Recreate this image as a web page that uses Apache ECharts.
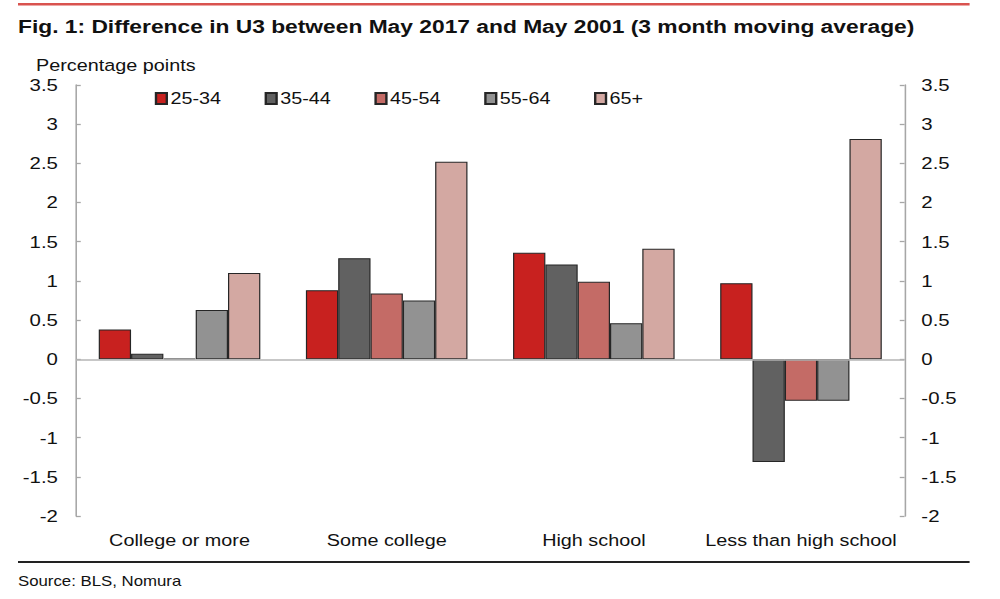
<!DOCTYPE html>
<html><head><meta charset="utf-8">
<script src="https://cdn.jsdelivr.net/npm/echarts@6/dist/echarts.min.js"></script>
<style>
html,body{margin:0;padding:0;background:#fff;overflow:hidden}
#c{width:833.33px;height:599px;transform:scaleX(1.2);transform-origin:0 0}
</style>
</head><body><div id="c"></div>
<script>
const categories = ['College or more', 'Some college', 'High school', 'Less than high school'];
const seriesNames = ['25-34', '35-44', '45-54', '55-64', '65+'];
const s2534 = [0.38, 0.88, 1.36, 0.97];
const s3544 = [0.07, 1.29, 1.21, -1.31];
const s4554 = [0.01, 0.84, 0.99, -0.53];
const s5564 = [0.63, 0.75, 0.46, -0.53];
const s65p  = [1.10, 2.52, 1.41, 2.81];
const yTicks = [-2, -1.5, -1, -0.5, 0, 0.5, 1, 1.5, 2, 2.5, 3, 3.5];

const colors = ['#c8211f', '#616161', '#c46b66', '#929292', '#d3a8a2'];
const seriesData = [s2534, s3544, s4554, s5564, s65p];
const font = 'Liberation Sans, Arial, sans-serif';

// The page is drawn at 833 px wide and stretched horizontally by 1.2 (like the reference)
const chart = echarts.init(document.getElementById('c'), null, { renderer: 'svg' });
const yAxisBase = (pos) => ({
  type: 'value', position: pos, min: yTicks[0], max: yTicks[yTicks.length - 1], interval: 0.5,
  splitLine: { show: false },
  axisLine: { show: true, lineStyle: { color: '#a6a6a6', width: 1.3 } },
  axisTick: { show: true, inside: true, length: 4, lineStyle: { color: '#a6a6a6', width: 1.3 } },
  axisLabel: { color: '#111', fontSize: 17, fontFamily: font, margin: pos === 'left' ? 15 : 14 }
});
chart.setOption({
  animation: false,
  color: colors,
  title: {
    text: 'Fig. 1: Difference in U3 between May 2017 and May 2001 (3 month moving average)',
    left: 10, top: 12,
    textStyle: { fontSize: 19, fontWeight: 'bold', color: '#111', fontFamily: font }
  },
  legend: {
    left: 124, top: 85, itemWidth: 9, itemHeight: 11, itemGap: 36.3, icon: 'rect',
    textStyle: { fontSize: 16.5, color: '#111', fontFamily: font, padding: [0, 0, 0, -2] },
    data: seriesNames
  },
  graphic: [
    { type: 'rect', shape: { x: 15, y: 3, width: 793, height: 2.5 }, style: { fill: '#d9534f' } },
    { type: 'rect', shape: { x: 15, y: 561, width: 793, height: 2 }, style: { fill: '#222' } },
    { type: 'text', left: 15, top: 574, style: { text: 'Source: BLS, Nomura', fontSize: 14, fill: '#111', fontFamily: font } },
    { type: 'text', left: 30, top: 57, style: { text: 'Percentage points', fontSize: 16.5, fill: '#111', fontFamily: font } }
  ],
  grid: { left: 63.3, right: 79.2, top: 85, bottom: 83 },
  xAxis: {
    type: 'category', data: categories,
    axisLine: { show: false }, axisTick: { show: false },
    axisLabel: { color: '#111', fontSize: 16.5, fontFamily: font, margin: 16, interval: 0 }
  },
  yAxis: [yAxisBase('left'), yAxisBase('right')],
  series: seriesNames.map((n, i) => ({
    name: n, type: 'bar', data: seriesData[i], yAxisIndex: 0,
    barGap: '0%', barCategoryGap: '22%',
    itemStyle: { color: colors[i], borderColor: '#262626', borderWidth: 1 },
    markLine: i === 0 ? {
      silent: true, symbol: 'none', label: { show: false },
      lineStyle: { color: '#b5b5b5', type: 'solid', width: 1.5 },
      data: [{ yAxis: 0 }]
    } : undefined
  }))
});
</script></body></html>
